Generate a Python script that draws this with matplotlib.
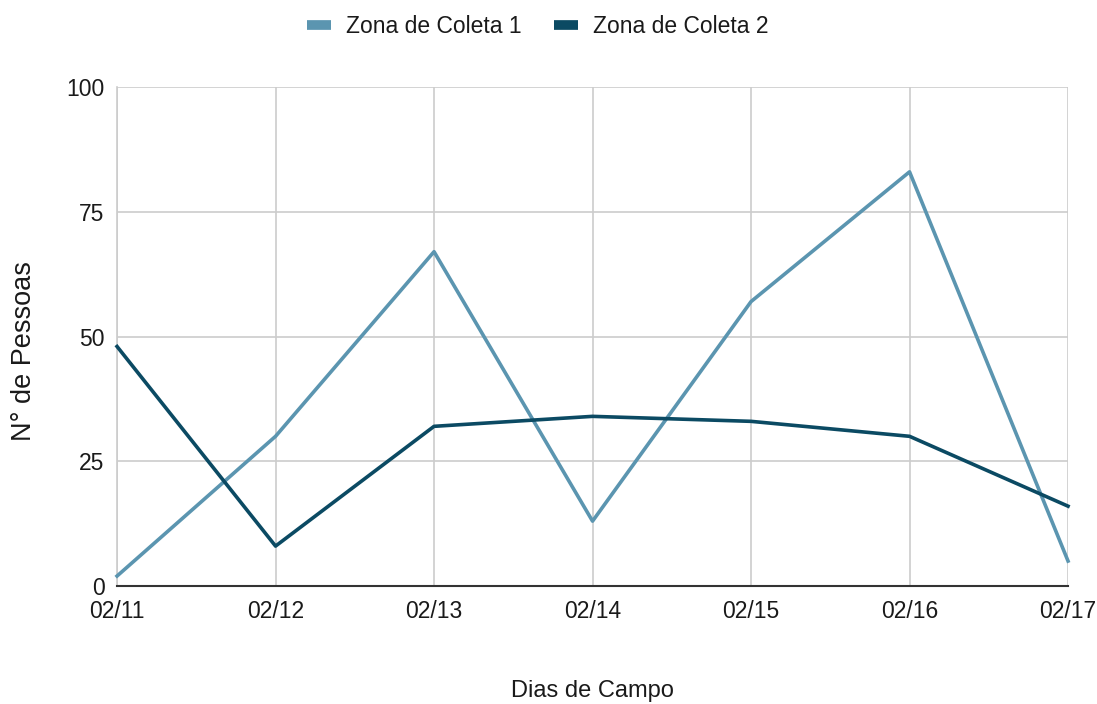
import matplotlib
matplotlib.use("Agg")
import matplotlib.pyplot as plt

plt.rcParams['font.family'] = ['Liberation Sans', 'DejaVu Sans']

dias = ["02/11", "02/12", "02/13", "02/14", "02/15", "02/16", "02/17"]
zona1 = [2, 30, 67, 13, 57, 83, 5]
zona2 = [48, 8, 32, 34, 33, 30, 16]
yticks = [0, 25, 50, 75, 100]

c1 = "#5b95b0"
c2 = "#0b4a63"
tc = "#1a1a1a"

fig = plt.figure(figsize=(10.97, 7.04), dpi=100)
ax = fig.add_axes([0.1067, 0.1676, 0.8669, 0.7088])

x = list(range(len(dias)))
ax.plot(x, zona1, color=c1, lw=2.6, label="Zona de Coleta 1", clip_on=False, zorder=3)
ax.plot(x, zona2, color=c2, lw=2.6, label="Zona de Coleta 2", clip_on=False, zorder=3)

ax.set_xlim(0, len(dias) - 1)
ax.set_ylim(0, 100)
ax.set_xticks(x)
ax.set_xticklabels(dias, fontsize=16.5, color=tc)
ax.set_yticks(yticks)
ax.set_yticklabels([str(v) for v in yticks], fontsize=16.5, color=tc)
ax.tick_params(length=0)
ax.tick_params(axis='x', pad=10)
ax.tick_params(axis='y', pad=9)

ax.grid(True, color="#cccccc", lw=1.2)
ax.set_axisbelow(True)
for s in ["top", "right"]:
    ax.spines[s].set_visible(False)
ax.spines["left"].set_color("#cccccc")
ax.spines["left"].set_linewidth(1.2)
ax.spines["bottom"].set_color("#333333")
ax.spines["bottom"].set_linewidth(1.5)

ax.set_xlabel("Dias de Campo", fontsize=17, color=tc)
ax.xaxis.label.set_va('center')
ax.xaxis.set_label_coords(0.5, -0.21)
ax.set_ylabel("N° de Pessoas", fontsize=19.5, color=tc)
ax.yaxis.label.set_va('center')
ax.yaxis.set_label_coords(-0.098, 0.47)

leg = fig.legend(loc="center", bbox_to_anchor=(0.49, 0.963), ncol=2, frameon=False,
                 fontsize=16.5, handlelength=1.05, handleheight=0.5, columnspacing=1.4,
                 handletextpad=0.65)
for h in leg.legend_handles:
    h.set_linewidth(7)
    h.set_solid_capstyle('butt')
for t in leg.get_texts():
    t.set_color(tc)

fig.savefig("out.png", dpi=100)
